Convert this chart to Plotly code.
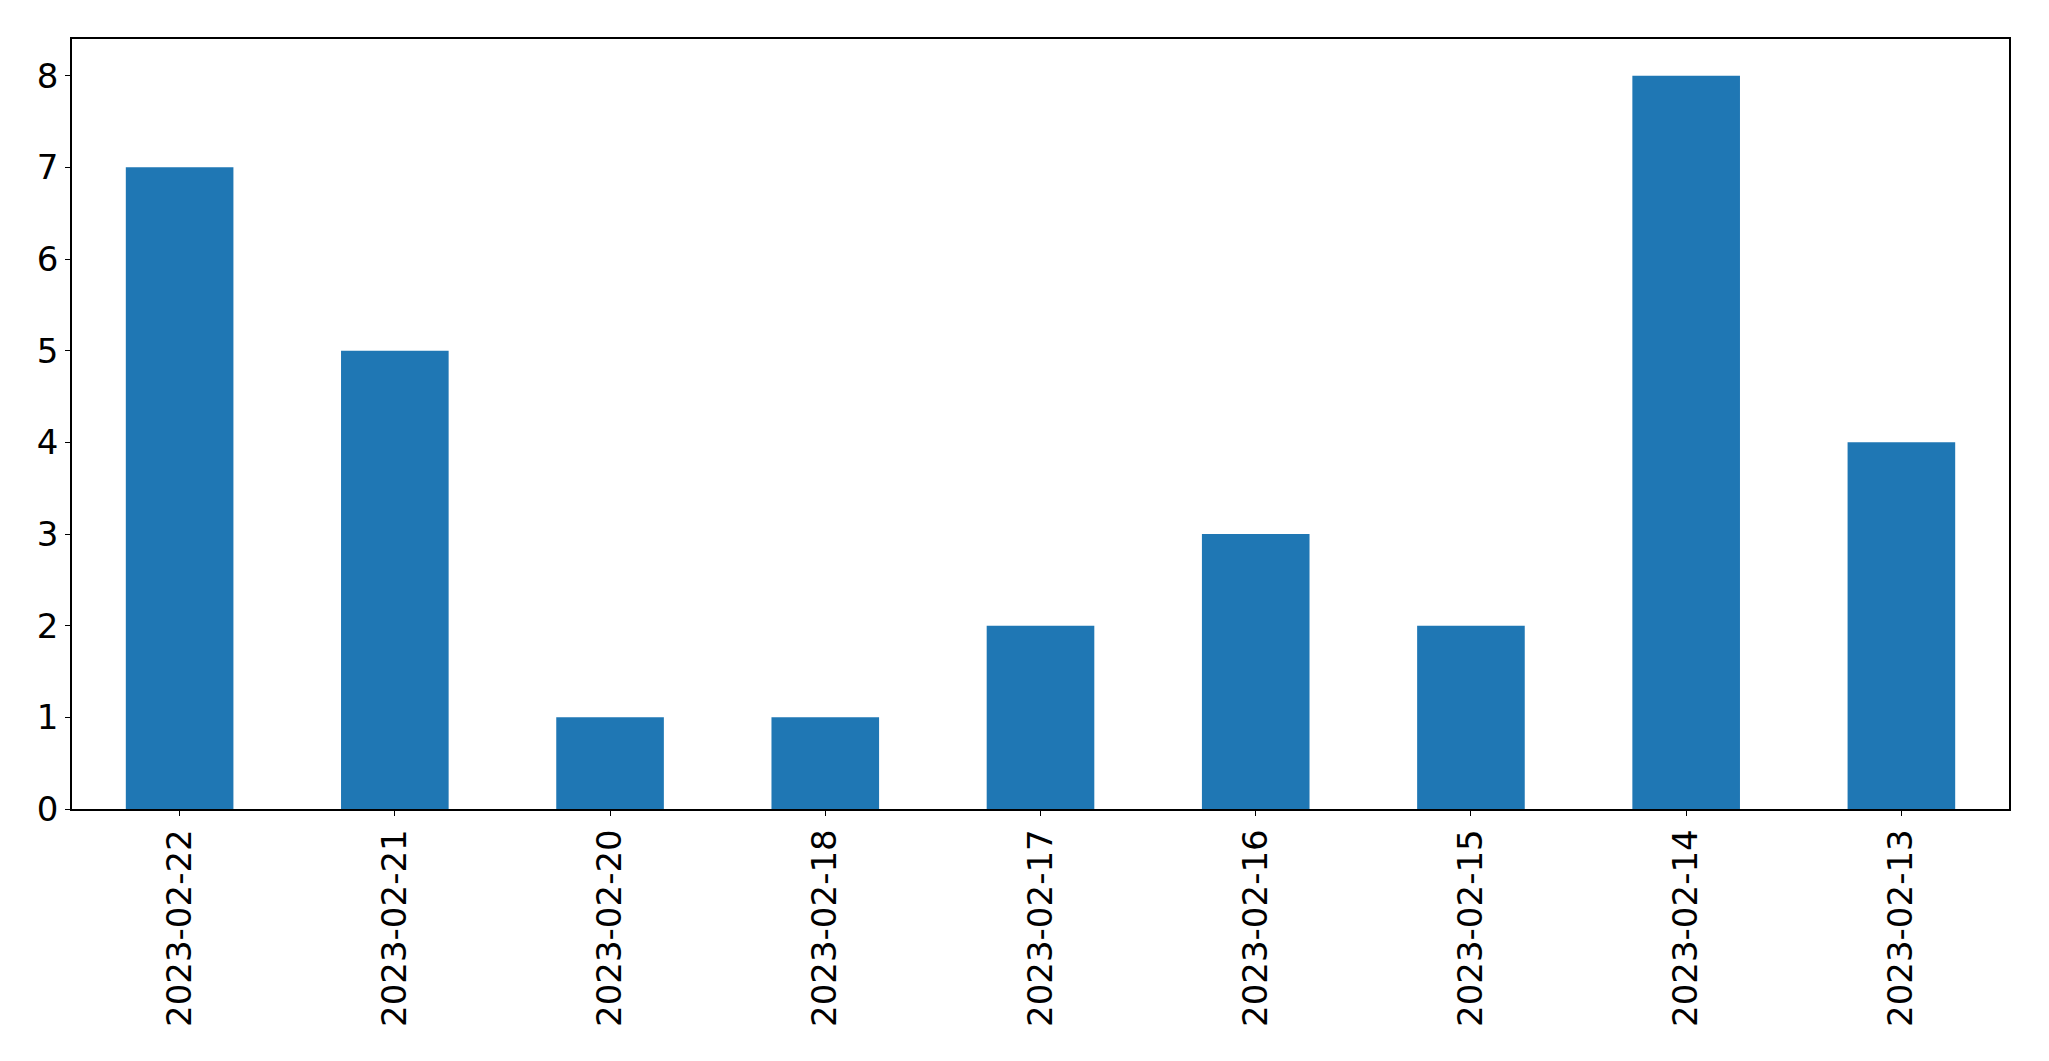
import plotly.graph_objects as go

dates = ["2023-02-22", "2023-02-21", "2023-02-20", "2023-02-18", "2023-02-17",
         "2023-02-16", "2023-02-15", "2023-02-14", "2023-02-13"]
counts = [7, 5, 1, 1, 2, 3, 2, 8, 4]

fig = go.Figure(go.Bar(x=dates, y=counts, width=0.5, marker_color="#1f77b4",
                       marker_line_width=0))

fig.update_layout(
    width=2049, height=1061,
    margin=dict(l=72, r=40, t=39, b=252),
    paper_bgcolor="white", plot_bgcolor="white",
    showlegend=False,
    font=dict(family="DejaVu Sans", size=34, color="black"),
)
fig.update_xaxes(
    type="category", range=[-0.5, 8.5],
    showline=True, linecolor="black", linewidth=1.5, mirror=True,
    ticks="outside", ticklen=5, tickcolor="black", tickwidth=1.2,
    tickangle=-90, showgrid=False, zeroline=False,
    tickfont=dict(family="DejaVu Sans", size=34, color="black"),
)
fig.update_yaxes(
    range=[0, 8.4], dtick=1, tick0=0,
    showline=True, linecolor="black", linewidth=1.5, mirror=True,
    ticks="outside", ticklen=5, tickcolor="black", tickwidth=1.2,
    showgrid=False, zeroline=False,
    tickfont=dict(family="DejaVu Sans", size=34, color="black"),
)

fig.write_html("out.html")
